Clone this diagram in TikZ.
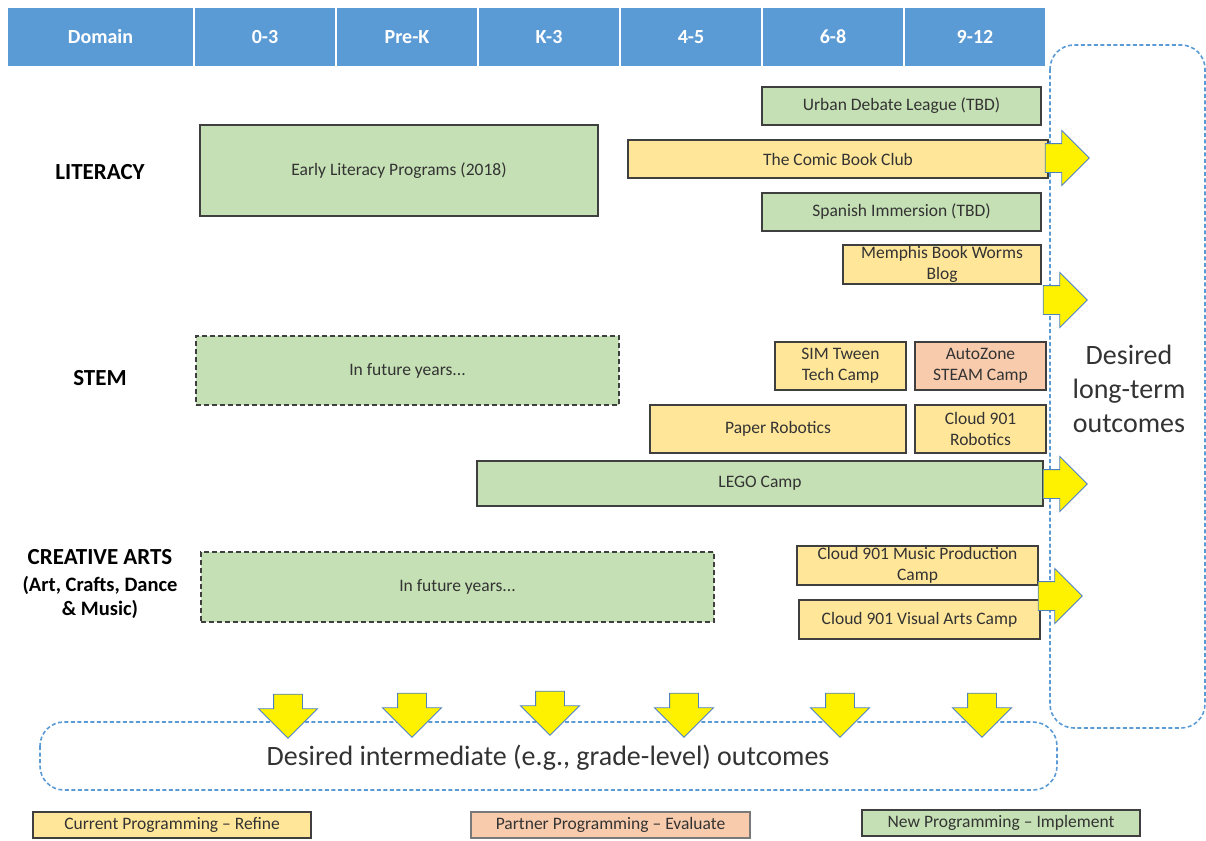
\documentclass[tikz,border=0pt]{standalone}
\usepackage{fontspec}
\setmainfont{Carlito}
\usetikzlibrary{shapes.arrows}
\definecolor{hdr}{HTML}{5B9BD5}
\definecolor{grn}{HTML}{C5E0B4}
\definecolor{ylw}{HTML}{FFE699}
\definecolor{sal}{HTML}{F8CBAD}
\definecolor{edge}{HTML}{3F3F3F}
\definecolor{txt}{HTML}{333333}
\definecolor{arrline}{HTML}{4F81BD}
\newcommand{\pbox}[7]{\node[#2, minimum width={#5-#3}, minimum height={#6-#4}] (#1) at ({(#3+#5)/2},{(#4+#6)/2}) {#7};}
\tikzset{
  prog/.style={draw=edge, line width=1.6pt, text=txt, font=\fontsize{17.5}{21}\selectfont, align=center, inner sep=0pt},
  futurebox/.style={prog, fill=grn, dashed, dash pattern=on 5pt off 3pt},
  hcell/.style={fill=hdr, draw=white, line width=1.2pt, text=white, font=\bfseries\fontsize{20}{22}\selectfont, inner sep=0pt},
  outbox/.style={draw=hdr, line width=1.6pt, dash pattern=on 4pt off 2.5pt, rounded corners=24pt},
  domlabel/.style={font=\bfseries\fontsize{23}{26}\selectfont, text=black, align=center},
  sublabel/.style={font=\bfseries\fontsize{20.5}{24}\selectfont, text=black, align=center},
  rarrow/.style={single arrow, fill=yellow, draw=arrline, line width=0.9pt, inner xsep=0pt, inner ysep=14pt, single arrow head extend=13pt, minimum height=44pt},
  darrow/.style={rarrow, rotate=-90, single arrow head extend=15pt},
  outtext/.style={font=\fontsize{28}{34}\selectfont, text=txt, align=center}
}
\begin{document}
\begin{tikzpicture}[x=1pt,y=-1pt]
\useasboundingbox (0,0) rectangle (1206,840);
% header
\pbox{hdom}{hcell}{7}{7}{194}{67}{Domain}
\pbox{h03}{hcell}{194}{7}{336}{67}{0-3}
\pbox{hpk}{hcell}{336}{7}{478}{67}{Pre-K}
\pbox{hk3}{hcell}{478}{7}{620}{67}{K-3}
\pbox{h45}{hcell}{620}{7}{762}{67}{4-5}
\pbox{h68}{hcell}{762}{7}{904}{67}{6-8}
\pbox{h912}{hcell}{904}{7}{1046}{67}{9-12}
% outcome boxes
\draw[outbox] (1050,45) rectangle (1205,728);
\draw[outbox] (40,722) rectangle (1057,790);
\node[outtext] (lt) at (1129,389) {Desired\\long-term\\outcomes};
\node[outtext] (im) at (548,758) {Desired intermediate (e.g., grade-level) outcomes};
% domains
\node[domlabel] (lit) at (100,172) {LITERACY};
\node[domlabel] (stem) at (100,378) {STEM};
\node[domlabel] (ca) at (100,557) {CREATIVE ARTS};
\node[sublabel] (ca2) at (100,597) {(Art, Crafts, Dance\\\& Music)};
% literacy
\pbox{elp}{prog, fill=grn}{200}{125}{598}{216}{Early Literacy Programs (2018)}
\pbox{udl}{prog, fill=grn}{762}{87}{1041}{125}{Urban Debate League (TBD)}
\pbox{cbc}{prog, fill=ylw}{628}{140}{1048}{178}{The Comic Book Club}
\pbox{spi}{prog, fill=grn}{762}{193}{1041}{231}{Spanish Immersion (TBD)}
\pbox{mbw}{prog, fill=ylw}{843}{245}{1041}{284}{Memphis Book Worms\\Blog}
% stem
\pbox{fut1}{futurebox}{196}{336}{619}{405}{In future years...}
\pbox{sim}{prog, fill=ylw}{775}{342}{906}{390}{SIM Tween\\Tech Camp}
\pbox{azs}{prog, fill=sal}{915}{342}{1046}{390}{AutoZone\\STEAM Camp}
\pbox{ppr}{prog, fill=ylw}{650}{405}{906}{453}{Paper Robotics}
\pbox{c9r}{prog, fill=ylw}{915}{405}{1046}{453}{Cloud 901\\Robotics}
\pbox{lego}{prog, fill=grn}{477}{461}{1043}{506}{LEGO Camp}
% creative arts
\pbox{fut2}{futurebox}{201}{552}{714}{622}{In future years...}
\pbox{c9m}{prog, fill=ylw}{797}{546}{1038}{585}{Cloud 901 Music Production\\Camp}
\pbox{c9v}{prog, fill=ylw}{799}{600}{1040}{639}{Cloud 901 Visual Arts Camp}
% right arrows
\node[rarrow] (ra1) at (1060,158) {};
\node[rarrow] (ra2) at (1058,300) {};
\node[rarrow] (ra3) at (1058,484) {};
\node[rarrow] (ra4) at (1053,596) {};
% down arrows
\node[darrow] (da1) at (288,709) {};
\node[darrow] (da2) at (412,708) {};
\node[darrow] (da3) at (550,706) {};
\node[darrow] (da4) at (684,708) {};
\node[darrow] (da5) at (840,708) {};
\node[darrow] (da6) at (982,708) {};
% legend
\pbox{lg1}{prog, fill=ylw, line width=1.2pt}{33}{812}{311}{838}{Current Programming – Refine}
\pbox{lg2}{prog, fill=sal, line width=1.2pt, draw=edge!70}{471}{812}{750}{838}{Partner Programming – Evaluate}
\pbox{lg3}{prog, fill=grn, line width=1.2pt}{862}{810}{1140}{836}{New Programming – Implement}
\end{tikzpicture}
\end{document}
